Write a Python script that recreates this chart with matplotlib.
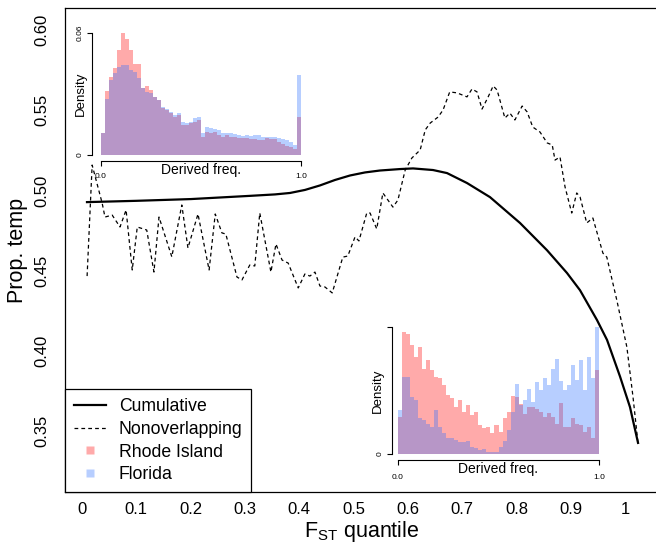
import numpy as np
import matplotlib
matplotlib.use("Agg")
import matplotlib.pyplot as plt
from matplotlib.lines import Line2D

plt.rcParams["font.family"] = ["Liberation Sans", "DejaVu Sans"]
plt.rcParams["mathtext.fontset"] = "custom"
plt.rcParams["mathtext.rm"] = "Liberation Sans"
plt.rcParams["mathtext.it"] = "Liberation Sans:italic"

# cumulative proportion (solid)
cum_x = [0.0092, 0.0994, 0.2007, 0.3094, 0.3554, 0.3831, 0.4107, 0.4383, 0.4659, 0.4936,
         0.5212, 0.5488, 0.5856, 0.6096, 0.6464, 0.6722, 0.709, 0.7514, 0.8066, 0.8564,
         0.8932, 0.9171, 0.9484, 0.9669, 0.9908, 1.0092, 1.024]
cum_y = [0.4927, 0.4935, 0.4946, 0.4966, 0.4975, 0.4984, 0.5003, 0.5031, 0.5065, 0.5093,
         0.5112, 0.5124, 0.5133, 0.5137, 0.5127, 0.5108, 0.5046, 0.4958, 0.4797, 0.4627,
         0.4485, 0.4378, 0.4192, 0.4068, 0.3840, 0.3649, 0.3426]

# nonoverlapping windows (dashed)
non_x = [0.0094, 0.0187, 0.0371, 0.0423, 0.0556, 0.0700, 0.0812, 0.0925, 0.1018, 0.1192,
         0.1325, 0.1418, 0.1654, 0.1838, 0.1951, 0.2136, 0.2341, 0.2454, 0.2577, 0.2649,
         0.2854, 0.2946, 0.3090, 0.3182, 0.3274, 0.3479, 0.3572, 0.3684, 0.3797, 0.3982,
         0.4105, 0.4197, 0.4290, 0.4382, 0.4474, 0.4608, 0.4803, 0.4895, 0.5028, 0.5100,
         0.5244, 0.5305, 0.5428, 0.5541, 0.5726, 0.5818, 0.5952, 0.6075, 0.6228, 0.6321,
         0.6413, 0.6557, 0.6649, 0.6772, 0.6906, 0.7090, 0.7182, 0.7275, 0.7367, 0.7480,
         0.7572, 0.7644, 0.7788, 0.7880, 0.7972, 0.8106, 0.8198, 0.8301, 0.8434, 0.8567,
         0.8660, 0.8711, 0.8803, 0.8896, 0.9019, 0.9111, 0.9172, 0.9295, 0.9408, 0.9593,
         0.9665, 0.9849, 1.0034, 1.0147, 1.0239]
non_y = [0.4466, 0.5158, 0.4921, 0.4834, 0.4846, 0.4772, 0.4878, 0.4504, 0.4772, 0.4753,
         0.4491, 0.4834, 0.4586, 0.4909, 0.4641, 0.4853, 0.4504, 0.4853, 0.4735, 0.4728,
         0.4460, 0.4442, 0.4535, 0.4529, 0.4859, 0.4491, 0.4666, 0.4566, 0.4547, 0.4392,
         0.4479, 0.4466, 0.4491, 0.4404, 0.4398, 0.4361, 0.4584, 0.4591, 0.4710, 0.4685,
         0.4859, 0.4859, 0.4760, 0.4984, 0.4896, 0.4940, 0.5127, 0.5202, 0.5252, 0.5377,
         0.5420, 0.5457, 0.5501, 0.5614, 0.5608, 0.5583, 0.5632, 0.5614, 0.5507, 0.5583,
         0.5651, 0.5626, 0.5451, 0.5482, 0.5439, 0.5526, 0.5489, 0.5395, 0.5364, 0.5296,
         0.5283, 0.5189, 0.5208, 0.5021, 0.4859, 0.4984, 0.4959, 0.4797, 0.4828, 0.4609,
         0.4584, 0.4316, 0.4024, 0.3713, 0.3426]

# derived allele frequency spectra, all SNPs (top-left inset)
all_ri = [0.0107, 0.0317, 0.0382, 0.0426, 0.0517, 0.0599, 0.057, 0.0517, 0.045, 0.045,
          0.0328, 0.034, 0.032, 0.0287, 0.027, 0.023, 0.0221, 0.0208, 0.0189, 0.0197,
          0.0148, 0.0148, 0.0156, 0.0164, 0.0172, 0.009, 0.0115, 0.0107, 0.0115, 0.0098,
          0.009, 0.0098, 0.009, 0.009, 0.0082, 0.0082, 0.0082, 0.0077, 0.008, 0.0074,
          0.0074, 0.0082, 0.0077, 0.0077, 0.0066, 0.0054, 0.0044, 0.0041, 0.0028, 0.0189]
all_fl = [0.0107, 0.0274, 0.0369, 0.0405, 0.0435, 0.0443, 0.0443, 0.0418, 0.041, 0.0377,
          0.0328, 0.031, 0.0303, 0.0287, 0.027, 0.0238, 0.0225, 0.0213, 0.0197, 0.0205,
          0.0164, 0.0159, 0.0164, 0.018, 0.0185, 0.011, 0.0136, 0.0131, 0.0126, 0.0123,
          0.011, 0.011, 0.0107, 0.0103, 0.0098, 0.0093, 0.0097, 0.0093, 0.0098, 0.0098,
          0.0087, 0.009, 0.0087, 0.0087, 0.0082, 0.0077, 0.0074, 0.0066, 0.0049, 0.0394]

# derived allele frequency spectra, top FST SNPs (bottom-right inset)
top_ri = [0.0115, 0.0384, 0.0379, 0.0342, 0.0306, 0.0337, 0.0269, 0.0297, 0.0266, 0.0243,
          0.0238, 0.0217, 0.0185, 0.0175, 0.0149, 0.017, 0.0133, 0.0154, 0.0122, 0.0133,
          0.0091, 0.0081, 0.0086, 0.0065, 0.0091, 0.007, 0.0112, 0.0133, 0.0182, 0.0178,
          0.0157, 0.0126, 0.0147, 0.0147, 0.0143, 0.0133, 0.0117, 0.0128, 0.0117, 0.0096,
          0.0161, 0.0086, 0.0086, 0.0112, 0.0096, 0.0091, 0.007, 0.0084, 0.0049, 0.0266]
top_fl = [0.014, 0.0243, 0.0243, 0.0178, 0.017, 0.0112, 0.0107, 0.0096, 0.0086, 0.0138,
          0.0086, 0.0067, 0.0049, 0.0049, 0.0044, 0.0039, 0.0039, 0.0042, 0.0023, 0.0018,
          0.0013, 0.0015, 0.0007, 0.0007, 0.0007, 0.0023, 0.0042, 0.0075, 0.0133, 0.022,
          0.0154, 0.017, 0.0206, 0.0164, 0.0227, 0.0201, 0.0238, 0.0217, 0.0269, 0.03,
          0.023, 0.0201, 0.0217, 0.028, 0.0232, 0.0295, 0.0201, 0.0306, 0.0238, 0.04]

x_ticks = [0, 0.1, 0.2, 0.3, 0.4, 0.5, 0.6, 0.7, 0.8, 0.9, 1]
x_labels = ["0", "0.1", "0.2", "0.3", "0.4", "0.5", "0.6", "0.7", "0.8", "0.9", "1"]
y_ticks = [0.35, 0.40, 0.45, 0.50, 0.55, 0.60]
y_labels = ["0.35", "0.40", "0.45", "0.50", "0.55", "0.60"]

RED = (1.0, 0.1, 0.1, 0.37)
BLUE = (0.2, 0.45, 1.0, 0.35)

W, H = 656, 544
fig = plt.figure(figsize=(W / 100, H / 100), dpi=100)


def px_box(x0, y0, x1, y1):
    # pixel box (top-left origin) -> figure fraction rect
    return [x0 / W, 1 - y1 / H, (x1 - x0) / W, (y1 - y0) / H]


ax = fig.add_axes(px_box(65, 8, 659, 492))
ax.set_xlim(-0.0313, 1.0626)
ax.set_ylim(0.312, 0.6137)
cum_line, = ax.plot(cum_x, cum_y, color="black", lw=1.6)
non_line, = ax.plot(non_x, non_y, color="black", lw=0.9, dashes=(3, 2.5))
ax.set_xticks(x_ticks)
ax.set_xticklabels(x_labels)
ax.set_yticks(y_ticks)
ax.set_yticklabels(y_labels, rotation=90, va="center")
ax.tick_params(axis="both", length=0, labelsize=12)
ax.tick_params(axis="x", pad=7)
ax.tick_params(axis="y", pad=11)
for s in ax.spines.values():
    s.set_linewidth(0.9)

fig.text(18 / W, 1 - 250 / H, "Prop. temp", rotation=90, ha="center", va="center",
         fontsize=15.5)
fig.text(362 / W, 1 - 537 / H, r"F$_{\mathrm{ST}}$ quantile", ha="center",
         va="baseline", fontsize=15.5)

red_proxy = Line2D([], [], marker="s", markersize=6, linestyle="none",
                   markerfacecolor=RED, markeredgecolor="none")
blue_proxy = Line2D([], [], marker="s", markersize=6, linestyle="none",
                    markerfacecolor=BLUE, markeredgecolor="none")
leg = ax.legend([cum_line, non_line, red_proxy, blue_proxy],
                ["Cumulative", "Nonoverlapping", "Rhode Island", "Florida"],
                loc="lower left", bbox_to_anchor=(0, 0), borderaxespad=0,
                fancybox=False, edgecolor="black", framealpha=1, fontsize=12.7,
                handlelength=1.8, handletextpad=0.75, labelspacing=0.32,
                borderpad=0.5)
leg.get_frame().set_linewidth(0.9)

bin_left = np.linspace(0, 1, 51)[:-1]


def inset(rect, ri, fl, ymax, ylabels, left_out, bottom_out, tick_pad):
    a = fig.add_axes(rect)
    a.set_facecolor("none")
    a.bar(bin_left, ri, width=0.02, align="edge", color=RED, linewidth=0)
    a.bar(bin_left, fl, width=0.02, align="edge", color=BLUE, linewidth=0)
    a.set_xlim(0, 1)
    a.set_ylim(0, ymax)
    a.spines["top"].set_visible(False)
    a.spines["right"].set_visible(False)
    a.spines["left"].set_position(("outward", left_out))
    a.spines["bottom"].set_position(("outward", bottom_out))
    a.spines["left"].set_bounds(0, ymax)
    a.spines["bottom"].set_bounds(0, 1)
    for s in ("left", "bottom"):
        a.spines[s].set_linewidth(0.8)
    a.set_xticks([0, 1])
    a.set_xticklabels(["0.0", "1.0"])
    a.set_yticks([0, ymax])
    a.set_yticklabels(ylabels, rotation=90, va="center")
    a.tick_params(length=3.5, width=0.8, labelsize=6)
    a.tick_params(axis="x", pad=tick_pad)
    a.tick_params(axis="y", pad=2.5)
    a.text(0.5, -0.12, "Derived freq.", transform=a.transAxes, ha="center",
           va="center", fontsize=10)
    a.text(-0.1, 0.5, "Density", transform=a.transAxes, ha="center",
           va="center", rotation=90, fontsize=9.5)
    return a


inset(px_box(101, 33, 301, 155), all_ri, all_fl, 0.06, ["0", "0.06"], 6.5, 4.3, 5)
inset(px_box(398, 327, 599, 454), top_ri, top_fl, 0.04, ["0", ""], 4.3, 4.3, 6.5)

fig.savefig("out.png", dpi=100)
